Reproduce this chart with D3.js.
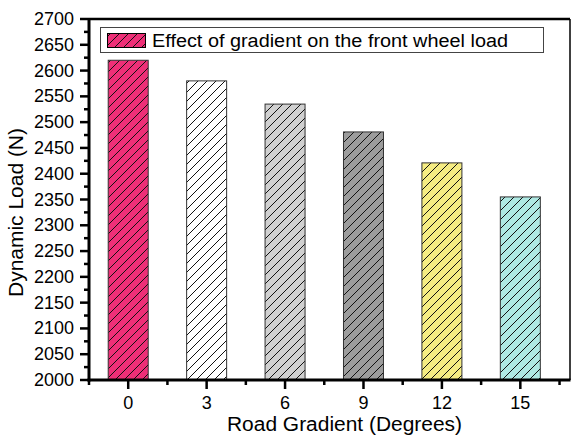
<!DOCTYPE html>
<html>
<head>
<meta charset="utf-8">
<script src="https://cdn.jsdelivr.net/npm/d3@7"></script>
<style>
  body { margin: 0; background: #fff; }
  svg { display: block; font-family: "Liberation Sans", Arial, sans-serif; }
</style>
</head>
<body>
<div id="chart"></div>
<script>
// donnees
var gradients = [0, 3, 6, 9, 12, 15];
var loads = [2620, 2580, 2535, 2481, 2421, 2355];
var barColors = ["#EE2F77", "#FFFFFF", "#D0D0D0", "#9C9C9C", "#F5EC82", "#AEE9E3"];
var yTicks = [2000, 2050, 2100, 2150, 2200, 2250, 2300, 2350, 2400, 2450, 2500, 2550, 2600, 2650, 2700];
var legendLabel = "Effect of gradient on the front wheel load";

var W = 572, H = 438;
var m = {left: 89, top: 19, right: 570, bottom: 380};

var svg = d3.select("#chart").append("svg").attr("width", W).attr("height", H);

var x = d3.scaleLinear().domain([-1.5, 16.9]).range([m.left, m.right]);
var y = d3.scaleLinear().domain([2000, 2700]).range([m.bottom, m.top]);
var barW = x(1.53) - x(0);

// motif hachure
var defs = svg.append("defs");
barColors.forEach(function (c, i) {
    var p = defs.append("pattern")
        .attr("id", "hatch" + i)
        .attr("patternUnits", "userSpaceOnUse")
        .attr("width", 9).attr("height", 9);
    p.append("rect").attr("width", 9).attr("height", 9).attr("fill", c);
    p.append("path")
        .attr("d", "M-2,2 L2,-2 M0,9 L9,0 M7,11 L11,7")
        .attr("stroke", "#111").attr("stroke-width", 1);
});

// barres
svg.append("g").selectAll("rect")
    .data(gradients)
    .join("rect")
    .attr("x", function (d) { return x(d) - barW / 2; })
    .attr("y", function (d, i) { return y(loads[i]); })
    .attr("width", barW)
    .attr("height", function (d, i) { return y(2000) - y(loads[i]); })
    .attr("fill", function (d, i) { return "url(#hatch" + i + ")"; })
    .attr("stroke", "#333")
    .attr("stroke-width", 1);

// cadre haut / droite
svg.append("line").attr("x1", m.left).attr("x2", m.right).attr("y1", m.top).attr("y2", m.top)
    .attr("stroke", "#000").attr("stroke-width", 2.5);
svg.append("line").attr("x1", m.right).attr("x2", m.right).attr("y1", m.top).attr("y2", m.bottom)
    .attr("stroke", "#000").attr("stroke-width", 1.5);

// axe Y
var yMinor = d3.range(2025, 2700, 50);
var gy = svg.append("g");
gy.selectAll(".maj").data(yTicks).join("line")
    .attr("x1", m.left - 9).attr("x2", m.left)
    .attr("y1", function (d) { return y(d); }).attr("y2", function (d) { return y(d); })
    .attr("stroke", "#000").attr("stroke-width", 2.5);
gy.selectAll(".min").data(yMinor).join("line")
    .attr("x1", m.left - 5).attr("x2", m.left)
    .attr("y1", function (d) { return y(d); }).attr("y2", function (d) { return y(d); })
    .attr("stroke", "#000").attr("stroke-width", 2.5);
gy.selectAll("text").data(yTicks).join("text")
    .attr("x", 74)
    .attr("y", function (d) { return y(d) + 6; })
    .attr("text-anchor", "end")
    .attr("font-size", "17.5px")
    .attr("fill", "#000")
    .attr("textLength", 40)
    .attr("lengthAdjust", "spacingAndGlyphs")
    .text(function (d) { return d; });
gy.append("line").attr("x1", m.left).attr("x2", m.left).attr("y1", m.top - 1).attr("y2", m.bottom + 1.5)
    .attr("stroke", "#000").attr("stroke-width", 3);

// axe X
var xMinor = d3.range(-1.5, 17, 3);
var gx = svg.append("g");
gx.selectAll(".maj").data(gradients).join("line")
    .attr("x1", function (d) { return x(d); }).attr("x2", function (d) { return x(d); })
    .attr("y1", m.bottom).attr("y2", m.bottom + 9)
    .attr("stroke", "#000").attr("stroke-width", 2.5);
gx.selectAll(".min").data(xMinor).join("line")
    .attr("x1", function (d) { return x(d); }).attr("x2", function (d) { return x(d); })
    .attr("y1", m.bottom).attr("y2", m.bottom + 5)
    .attr("stroke", "#000").attr("stroke-width", 2.5);
gx.selectAll("text").data(gradients).join("text")
    .attr("x", function (d) { return x(d); })
    .attr("y", 409)
    .attr("text-anchor", "middle")
    .attr("font-size", "18px")
    .attr("fill", "#000")
    .text(function (d) { return d; });
gx.append("line").attr("x1", m.left - 1.5).attr("x2", m.right + 0.5).attr("y1", m.bottom).attr("y2", m.bottom)
    .attr("stroke", "#000").attr("stroke-width", 3);

// titres
svg.append("text")
    .attr("x", 344.5).attr("y", 431)
    .attr("text-anchor", "middle")
    .attr("font-size", "20px")
    .attr("textLength", 235)
    .attr("lengthAdjust", "spacingAndGlyphs")
    .text("Road Gradient (Degrees)");
svg.append("text")
    .attr("transform", "translate(23,212.5) rotate(-90)")
    .attr("text-anchor", "middle")
    .attr("font-size", "20px")
    .attr("textLength", 169)
    .attr("lengthAdjust", "spacingAndGlyphs")
    .text("Dynamic Load (N)");

// legende
var lg = svg.append("g");
lg.append("rect").attr("x", 100.5).attr("y", 27.5).attr("width", 443).attr("height", 25)
    .attr("fill", "#fff").attr("stroke", "#444").attr("stroke-width", 1);
lg.append("rect").attr("x", 107.5).attr("y", 33.5).attr("width", 38).attr("height", 14)
    .attr("fill", "url(#hatch0)").attr("stroke", "#000").attr("stroke-width", 1);
lg.append("text").attr("x", 152).attr("y", 46.5)
    .attr("font-size", "18px")
    .attr("textLength", 356)
    .attr("lengthAdjust", "spacingAndGlyphs")
    .text(legendLabel);
</script>
</body>
</html>
